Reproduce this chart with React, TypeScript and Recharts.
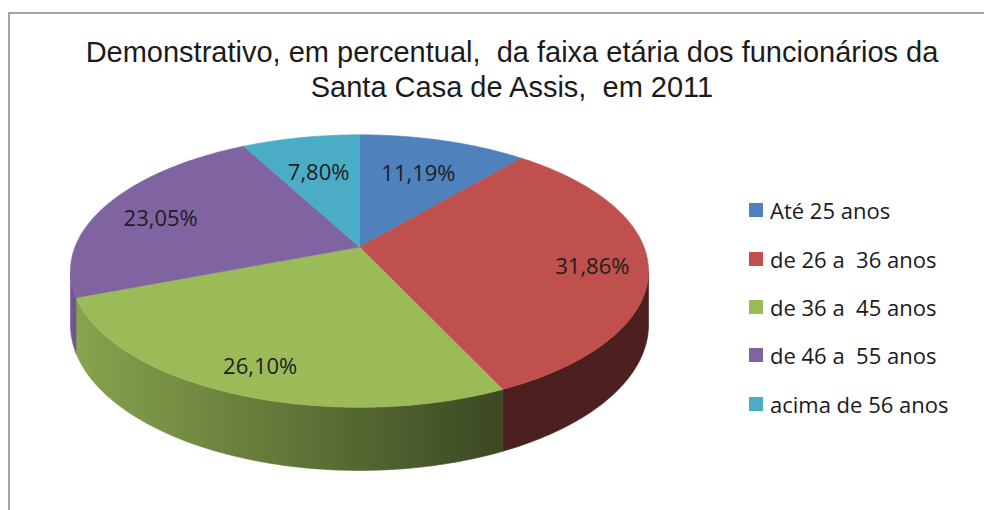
import React from 'react';
import { PieChart, Pie, Cell, Legend } from 'recharts';

const titleLines = [
  'Demonstrativo, em percentual,  da faixa etária dos funcionários da',
  'Santa Casa de Assis,  em 2011',
];
const categories = [
  'Até 25 anos',
  'de 26 a  36 anos',
  'de 36 a  45 anos',
  'de 46 a  55 anos',
  'acima de 56 anos',
];
const percentages = [11.19, 31.86, 26.1, 23.05, 7.8];
const COLORS = ['#4f81bd', '#c0504d', '#9bbb59', '#8064a2', '#4bacc6'];

const data = categories.map((name, i) => ({ name, value: percentages[i] }));

// 3D perspective parameters
const PERSP = 0.1765;
const RX_RATIO = 284.5 / 132;
const DEPTH_RATIO = 52 / 132;
const EDGE = (Math.asin(PERSP) * 180) / Math.PI;

function project(cx: number, cy: number, r: number, angDeg: number, f: number, z: number): [number, number] {
  const a = (angDeg * Math.PI) / 180;
  const u = f * Math.cos(a);
  const t = f * Math.sin(a);
  const s = 1 / (1 + PERSP * t);
  return [cx + r * RX_RATIO * u * s, cy - r * t * s + r * DEPTH_RATIO * z * s];
}

function shade(hex: string, factor: number): string {
  const n = parseInt(hex.slice(1), 16);
  const r = Math.round(((n >> 16) & 255) * factor);
  const g = Math.round(((n >> 8) & 255) * factor);
  const b = Math.round((n & 255) * factor);
  return `rgb(${r},${g},${b})`;
}

function arcPoints(cx: number, cy: number, r: number, from: number, to: number, z: number) {
  const steps = Math.max(2, Math.ceil(Math.abs(to - from)));
  const pts: string[] = [];
  for (let i = 0; i <= steps; i++) {
    const ang = from + ((to - from) * i) / steps;
    const [x, y] = project(cx, cy, r, ang, 1, z);
    pts.push(`${x.toFixed(2)},${y.toFixed(2)}`);
  }
  return pts;
}

function Slice3D(props: any) {
  const { cx, cy, outerRadius, startAngle, endAngle, index, payload } = props;
  let idx = typeof index === 'number' ? index : categories.indexOf(payload?.name ?? props.name);
  if (idx < 0) idx = 0;
  const color = COLORS[idx % COLORS.length];
  const a0 = Math.min(startAngle, endAngle);
  const a1 = Math.max(startAngle, endAngle);

  const topPts = arcPoints(cx, cy, outerRadius, a1, a0, 0);
  const topPath = `M${cx},${cy} L${topPts.join(' L')} Z`;

  const sides: string[] = [];
  for (let k = -1; k <= 1; k++) {
    const lo = -180 + EDGE + 360 * k;
    const hi = -EDGE + 360 * k;
    const s0 = Math.max(a0, lo);
    const s1 = Math.min(a1, hi);
    if (s1 > s0) {
      const upper = arcPoints(cx, cy, outerRadius, s0, s1, 0);
      const lower = arcPoints(cx, cy, outerRadius, s1, s0, 1);
      sides.push(`M${upper.join(' L')} L${lower.join(' L')} Z`);
    }
  }
  const gid = `side-grad-${idx}`;
  const left = cx - outerRadius * RX_RATIO * 1.02;
  const right = cx + outerRadius * RX_RATIO * 1.02;
  return (
    <g>
      <defs>
        <linearGradient id={gid} gradientUnits="userSpaceOnUse" x1={left} y1={0} x2={right} y2={0}>
          <stop offset="0" stopColor={shade(color, 0.88)} />
          <stop offset="0.74" stopColor={shade(color, 0.39)} />
          <stop offset="1" stopColor={shade(color, 0.4)} />
        </linearGradient>
      </defs>
      {sides.map((d, i) => (
        <path key={i} d={d} fill={`url(#${gid})`} stroke={`url(#${gid})`} strokeWidth={0.6} />
      ))}
      <path d={topPath} fill={color} stroke={color} strokeWidth={0.6} />
    </g>
  );
}

function fmt(v: number) {
  return v.toFixed(2).replace('.', ',') + '%';
}

function renderLabel(props: any) {
  const { cx, cy, midAngle, outerRadius, value, index } = props;
  const t = Math.sin((midAngle * Math.PI) / 180);
  const f = t > 0 ? 0.8 - 0.15 * t * t : 0.81;
  const [x, y] = project(cx, cy, outerRadius, midAngle, f, 0);
  return (
    <text
      key={`lbl-${index}`}
      x={x}
      y={y + (t < 0.5 ? 4 : 0)}
      textAnchor="middle"
      dominantBaseline="central"
      fontFamily="'Open Sans', Lato, sans-serif"
      fontSize={22}
      fill="#1e1e1e"
    >
      {fmt(value)}
    </text>
  );
}

function renderLegend() {
  return (
    <div>
      {categories.map((name, i) => (
        <div key={name} style={{ height: 48.4, display: 'flex', alignItems: 'center' }}>
          <span style={{ display: 'inline-block', width: 14, height: 14, background: COLORS[i], marginRight: 7 }} />
          <span
            style={{
              fontFamily: "'Open Sans', Lato, sans-serif",
              fontSize: 22,
              color: '#1a1a1a',
              whiteSpace: 'pre',
              lineHeight: '24px',
            }}
          >
            {name}
          </span>
        </div>
      ))}
    </div>
  );
}

export default function App() {
  return (
    <div style={{ position: 'absolute', left: 0, top: 0, width: 984, height: 510, overflow: 'hidden', background: '#fff' }}>
      <div
        style={{
          position: 'absolute',
          left: 8,
          top: 12,
          width: 1100,
          height: 600,
          border: '2px solid #a5a5a5',
          boxSizing: 'border-box',
        }}
      />
      <div
        style={{
          position: 'absolute',
          left: 12,
          top: 34.5,
          width: 1000,
          textAlign: 'center',
          fontFamily: "'Liberation Sans', Arial, sans-serif",
          fontSize: 29,
          lineHeight: '35px',
          color: '#1b1b1b',
          whiteSpace: 'pre',
        }}
      >
        {titleLines.map((l, i) => (
          <div key={i}>{l}</div>
        ))}
      </div>
      <div style={{ position: 'absolute', left: 0, top: 0 }}>
        <PieChart width={984} height={510} margin={{ top: 0, right: 0, bottom: 0, left: 0 }}>
          <Pie
            data={data}
            dataKey="value"
            nameKey="name"
            cx={359.5}
            cy={247}
            outerRadius={132}
            startAngle={90}
            endAngle={-270}
            isAnimationActive={false}
            shape={Slice3D}
            label={renderLabel}
            labelLine={false}
            stroke="none"
          >
            {data.map((d, i) => (
              <Cell key={d.name} fill={COLORS[i]} />
            ))}
          </Pie>
          <Legend
            layout="vertical"
            align="right"
            verticalAlign="middle"
            content={renderLegend}
            wrapperStyle={{ left: 749, top: 186, width: 230, right: 'auto' }}
          />
        </PieChart>
      </div>
    </div>
  );
}
